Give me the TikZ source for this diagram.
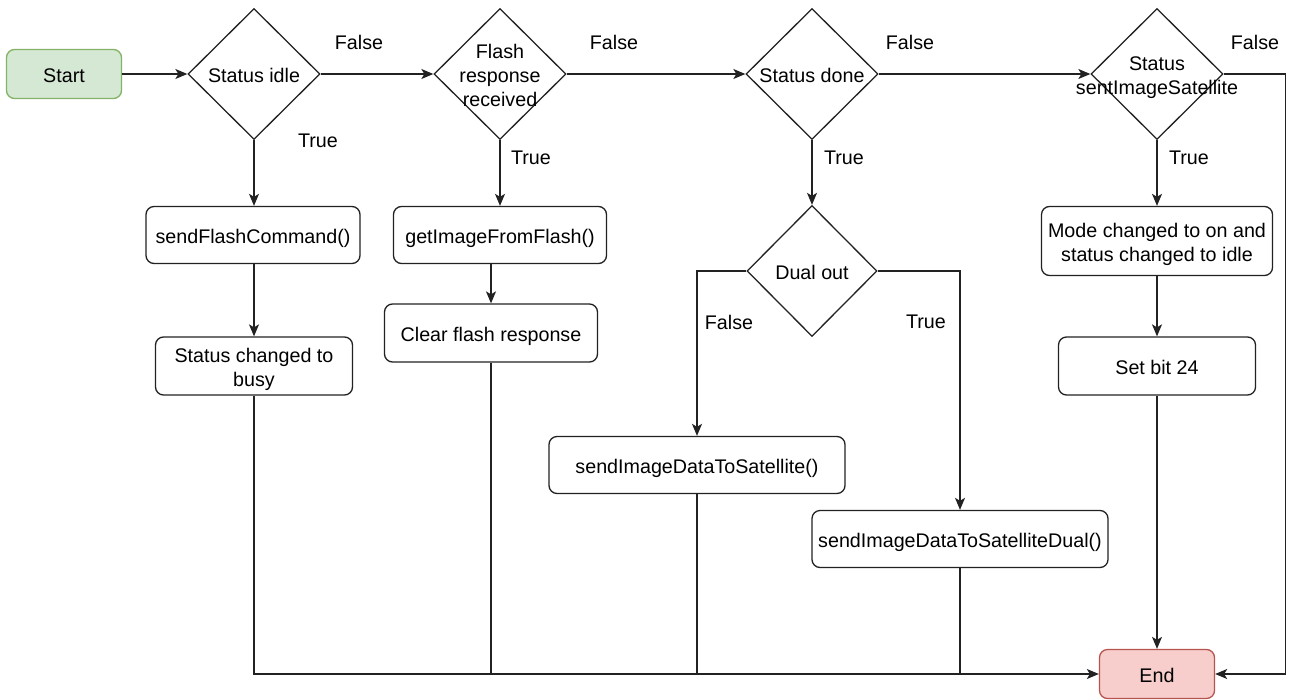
\documentclass[tikz,border=0pt]{standalone}
\usepackage{fontspec}
\setmainfont{Liberation Sans}
\usetikzlibrary{shapes.geometric,arrows.meta}
\definecolor{linec}{HTML}{222222}
\definecolor{startfill}{HTML}{D5E8D4}
\definecolor{startline}{HTML}{82B366}
\definecolor{endfill}{HTML}{F8CECC}
\definecolor{endline}{HTML}{B85450}
% zero-size text block, so every shape keeps its fixed size
% and the lines sit a little below the shape centre
\newcommand\ntext[1]{\makebox[0pt]{\raisebox{-9pt}[0pt][0pt]{\begin{tabular}{@{}c@{}}#1\end{tabular}}}}
\begin{document}
\begin{tikzpicture}[x=1pt,y=-1pt,
  font=\fontsize{19.7}{24}\selectfont,
  every node/.style={inner sep=0pt, text=black},
  proc/.style={draw=linec, line width=1.3pt, rounded corners=8pt, fill=white},
  terminal/.style={proc, minimum width=115pt, minimum height=49pt},
  decision/.style={draw=linec, line width=1.3pt, diamond, minimum width=132pt, minimum height=131pt, fill=white},
  flow/.style={draw=linec, line width=1.3pt, -{Stealth[length=12pt,width=10pt,inset=3pt]}},
  link/.style={draw=linec, line width=1.3pt}
]
\useasboundingbox (0,0) rectangle (1293,699);

% top row
\node[terminal, fill=startfill, draw=startline] (start) at (64,74) {\ntext{Start}};
\node[decision] (idle) at (254,74) {\ntext{Status idle}};
\node[decision] (flash) at (500,74) {\ntext{Flash\\response\\received}};
\node[decision] (done) at (812,74) {\ntext{Status done}};
\node[decision] (sent) at (1157,74) {\ntext{Status\\sentImageSatellite}};

% branch: status idle
\node[proc, minimum width=214pt, minimum height=57pt] (cmd) at (253,235) {\ntext{sendFlashCommand()}};
\node[proc, minimum width=197pt, minimum height=58pt] (busy) at (254,366) {\ntext{Status changed to\\busy}};

% branch: flash response
\node[proc, minimum width=213pt, minimum height=57pt] (get) at (500,235) {\ntext{getImageFromFlash()}};
\node[proc, minimum width=213pt, minimum height=58pt] (clear) at (491,333) {\ntext{Clear flash response}};

% branch: status done
\node[decision, minimum width=130pt] (dual) at (812,271) {\ntext{Dual out}};
\node[proc, minimum width=296pt, minimum height=57pt] (sat) at (697,465) {\ntext{sendImageDataToSatellite()}};
\node[proc, minimum width=296pt, minimum height=57pt] (satd) at (960,539) {\ntext{sendImageDataToSatelliteDual()}};

% branch: sent image
\node[proc, minimum width=231pt, minimum height=69pt] (mode) at (1157,241) {\ntext{Mode changed to on and\\status changed to idle}};
\node[proc, minimum width=197pt, minimum height=58pt] (bit) at (1157,366) {\ntext{Set bit 24}};

\node[terminal, fill=endfill, draw=endline] (end) at (1157,674) {\ntext{End}};

% connectors along the top
\draw[flow] (start) -- (idle);
\draw[flow] (idle) -- (flash);
\draw[flow] (flash) -- (done);
\draw[flow] (done) -- (sent);

% downward connectors
\draw[flow] (idle.south) -- (idle.south |- cmd.north);
\draw[flow] (cmd.south -| busy.north) -- (busy.north);
\draw[flow] (flash.south) -- (flash.south |- get.north);
\draw[flow] (get.south -| clear.north) -- (clear.north);
\draw[flow] (done.south) -- (dual.north);
\draw[flow] (dual.west) -| (sat.north);
\draw[flow] (dual.east) -| (satd.north);
\draw[flow] (sent.south) -- (mode.north);
\draw[flow] (mode) -- (bit);
\draw[flow] (bit) -- (end);

% return lines to End
\draw[flow] (sent.east) -- ++(62,0) |- (end.east);
\draw[flow] (busy.south) |- (end.west);
\draw[link] (clear.south) -- (clear.south |- end.west);
\draw[link] (sat.south) -- (sat.south |- end.west);
\draw[link] (satd.south) -- (satd.south |- end.west);

% branch labels
\node (f1) at (359,42) {False};
\node (f2) at (614,42) {False};
\node (f3) at (910,42) {False};
\node (f4) at (1255,42) {False};
\node (t1) at (318,141) {True};
\node (t2) at (531,158) {True};
\node (t3) at (844,158) {True};
\node (t4) at (1189,158) {True};
\node (f5) at (729,322) {False};
\node (t5) at (926,322) {True};
\end{tikzpicture}
\end{document}
